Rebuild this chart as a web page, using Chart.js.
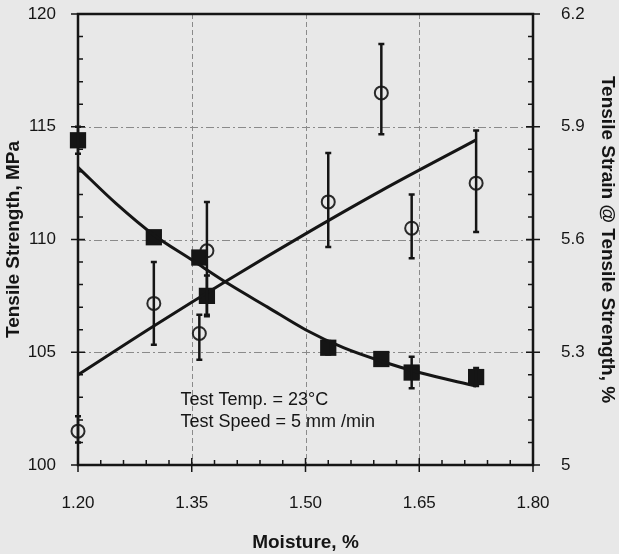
<!DOCTYPE html>
<html>
<head>
<meta charset="utf-8">
<script src="https://cdn.jsdelivr.net/npm/chart.js@4.4.1/dist/chart.umd.min.js"></script>
<style>
  html, body { margin: 0; padding: 0; background: #e8e8e8; }
  #wrap { width: 619px; height: 554px; }
</style>
</head>
<body>
<div id="wrap"><canvas id="myChart" width="619" height="554"></canvas></div>
<script>
// axis ticks
const xTicks = [1.2, 1.35, 1.5, 1.65, 1.8];
const strengthTicks = [100, 105, 110, 115, 120];
const strainTicks = [5, 5.3, 5.6, 5.9, 6.2];

// tensile strength (MPa), filled squares
const strengthMoisture = [1.2, 1.3, 1.36, 1.37, 1.53, 1.6, 1.64, 1.725];
const strength = [114.4, 110.1, 109.2, 107.5, 105.2, 104.7, 104.1, 103.9];
const strengthErr = [0.6, 0, 0, 0.9, 0.3, 0, 0.7, 0.4];

// tensile strain at tensile strength (%), open circles
const strainMoisture = [1.2, 1.3, 1.36, 1.37, 1.53, 1.6, 1.64, 1.725];
const strain = [5.09, 5.43, 5.35, 5.57, 5.7, 5.99, 5.63, 5.75];
const strainLow = [5.06, 5.32, 5.28, 5.4, 5.58, 5.88, 5.55, 5.62];
const strainHigh = [5.13, 5.54, 5.4, 5.7, 5.83, 6.12, 5.72, 5.89];

// fitted curves
const strengthFitX = [1.2, 1.25, 1.3, 1.35, 1.4, 1.45, 1.5, 1.55, 1.6, 1.65, 1.725];
const strengthFit = [113.2, 111.6, 110.2, 109.1, 108.0, 107.0, 106.0, 105.2, 104.6, 104.1, 103.5];
const strainFitX = [1.2, 1.3, 1.4, 1.5, 1.6, 1.725];
const strainFit = [5.24, 5.37, 5.495, 5.615, 5.73, 5.865];

const notes = ["Test Temp. = 23°C", "Test Speed = 5 mm /min"];

const FONT = '"Liberation Sans", Arial, sans-serif';
const INK = "#151515";

const pts = (xs, ys) => xs.map((x, i) => ({ x: x, y: ys[i] }));

// keep the tick label padding from pushing the plot down
const fitY = (w) => (s) => {
  s.width = w;
  s.paddingTop = 0;
  s.paddingBottom = 0;
};

// grid, frame, tick marks, error bars and the test note
const decor = {
  id: "decor",
  beforeDatasetsDraw(chart) {
    const { ctx, chartArea: a, scales } = chart;
    ctx.save();
    ctx.strokeStyle = "#8a8a8a";
    ctx.lineWidth = 1;
    ctx.setLineDash([5, 3]);
    xTicks.slice(1, -1).forEach((v) => {
      const px = Math.round(scales.x.getPixelForValue(v)) + 0.5;
      ctx.beginPath();
      ctx.moveTo(px, a.top);
      ctx.lineTo(px, a.bottom);
      ctx.stroke();
    });
    ctx.setLineDash([8, 3, 2, 3]);
    strengthTicks.slice(1, -1).forEach((v) => {
      const py = Math.round(scales.y.getPixelForValue(v)) + 0.5;
      ctx.beginPath();
      ctx.moveTo(a.left, py);
      ctx.lineTo(a.right, py);
      ctx.stroke();
    });
    ctx.restore();
  },
  afterDatasetsDraw(chart) {
    const { ctx, scales } = chart;
    ctx.save();
    ctx.strokeStyle = INK;
    ctx.lineWidth = 2.5;
    const bar = (x, lo, hi, s) => {
      const px = scales.x.getPixelForValue(x);
      const p1 = s.getPixelForValue(lo);
      const p2 = s.getPixelForValue(hi);
      ctx.beginPath();
      ctx.moveTo(px, p1);
      ctx.lineTo(px, p2);
      ctx.moveTo(px - 3, p1);
      ctx.lineTo(px + 3, p1);
      ctx.moveTo(px - 3, p2);
      ctx.lineTo(px + 3, p2);
      ctx.stroke();
    };
    strainMoisture.forEach((x, i) => bar(x, strainLow[i], strainHigh[i], scales.y2));
    strengthMoisture.forEach((x, i) => {
      if (strengthErr[i] > 0) bar(x, strength[i] - strengthErr[i], strength[i] + strengthErr[i], scales.y);
    });
    ctx.restore();
  },
  afterDraw(chart) {
    const { ctx, chartArea: a, scales } = chart;
    ctx.save();
    ctx.strokeStyle = INK;
    ctx.lineWidth = 2.5;
    ctx.strokeRect(a.left, a.top, a.right - a.left, a.bottom - a.top);

    ctx.lineWidth = 1.5;
    ctx.beginPath();
    // x axis: majors cross the axis, minors point inward
    for (let v = 1.2; v <= 1.8001; v += 0.03) {
      const px = scales.x.getPixelForValue(v);
      const major = xTicks.some((t) => Math.abs(t - v) < 1e-6);
      ctx.moveTo(px, a.bottom + (major ? 7 : 0));
      ctx.lineTo(px, a.bottom - (major ? 7 : 5));
    }
    // left axis
    for (let v = 100; v <= 120; v += 1) {
      const py = scales.y.getPixelForValue(v);
      const major = v % 5 === 0;
      ctx.moveTo(a.left - (major ? 7 : 0), py);
      ctx.lineTo(a.left + (major ? 7 : 5), py);
    }
    // right axis
    for (let k = 0; k <= 20; k++) {
      const py = scales.y2.getPixelForValue(5 + k * 0.06);
      const major = k % 5 === 0;
      ctx.moveTo(a.right + (major ? 7 : 0), py);
      ctx.lineTo(a.right - (major ? 7 : 5), py);
    }
    ctx.stroke();

    ctx.fillStyle = INK;
    ctx.font = "18px " + FONT;
    ctx.textBaseline = "middle";
    const nx = scales.x.getPixelForValue(1.335);
    const ny = scales.y.getPixelForValue(102.9);
    notes.forEach((t, i) => ctx.fillText(t, nx, ny + i * 22));
    ctx.restore();
  },
};

new Chart("myChart", {
  data: {
    datasets: [
      {
        type: "line",
        data: pts(strengthFitX, strengthFit),
        yAxisID: "y",
        borderColor: INK,
        borderWidth: 3,
        pointRadius: 0,
        cubicInterpolationMode: "monotone",
      },
      {
        type: "line",
        data: pts(strainFitX, strainFit),
        yAxisID: "y2",
        borderColor: INK,
        borderWidth: 3,
        pointRadius: 0,
        cubicInterpolationMode: "monotone",
      },
      {
        type: "scatter",
        data: pts(strengthMoisture, strength),
        yAxisID: "y",
        pointStyle: "rect",
        pointRadius: 11.5,
        backgroundColor: INK,
        borderColor: INK,
        borderWidth: 0,
        clip: false,
      },
      {
        type: "scatter",
        data: pts(strainMoisture, strain),
        yAxisID: "y2",
        pointStyle: "circle",
        pointRadius: 6.5,
        backgroundColor: "rgba(0,0,0,0)",
        borderColor: "#2a2a2a",
        borderWidth: 2,
        clip: false,
      },
    ],
  },
  options: {
    responsive: false,
    animation: false,
    layout: { autoPadding: false, padding: { top: 14, left: 0, right: 0, bottom: 0 } },
    plugins: {
      legend: { display: false },
      tooltip: { enabled: false },
    },
    scales: {
      x: {
        type: "linear",
        min: 1.2,
        max: 1.8,
        afterBuildTicks: (s) => { s.ticks = xTicks.map((v) => ({ value: v })); },
        afterFit: (s) => { s.height = 89; },
        grid: { display: false },
        border: { display: false },
        ticks: {
          padding: 20,
          color: INK,
          font: { family: FONT, size: 17 },
          maxRotation: 0,
          callback: (v) => v.toFixed(2),
        },
        title: {
          display: true,
          text: "Moisture, %",
          color: INK,
          padding: { top: 0, bottom: 0 },
          font: { family: FONT, size: 19, weight: "bold" },
        },
      },
      y: {
        position: "left",
        min: 100,
        max: 120,
        afterBuildTicks: (s) => { s.ticks = strengthTicks.map((v) => ({ value: v })); },
        afterFit: fitY(78),
        grid: { display: false },
        border: { display: false },
        ticks: {
          padding: 14,
          color: INK,
          font: { family: FONT, size: 17 },
        },
        title: {
          display: true,
          text: "Tensile Strength, MPa",
          color: INK,
          padding: { top: 2, bottom: 0 },
          font: { family: FONT, size: 19, weight: "bold" },
        },
      },
      y2: {
        position: "right",
        min: 5,
        max: 6.2,
        afterBuildTicks: (s) => { s.ticks = strainTicks.map((v) => ({ value: v })); },
        afterFit: fitY(86),
        grid: { display: false },
        border: { display: false },
        ticks: {
          padding: 20,
          color: INK,
          font: { family: FONT, size: 17 },
          callback: (v) => String(+v.toFixed(1)),
        },
        title: {
          display: true,
          text: "Tensile Strain @ Tensile Strength, %",
          color: INK,
          padding: { top: 0, bottom: 0 },
          font: { family: FONT, size: 19, weight: "bold" },
        },
      },
    },
  },
  plugins: [decor],
});
</script>
</body>
</html>
